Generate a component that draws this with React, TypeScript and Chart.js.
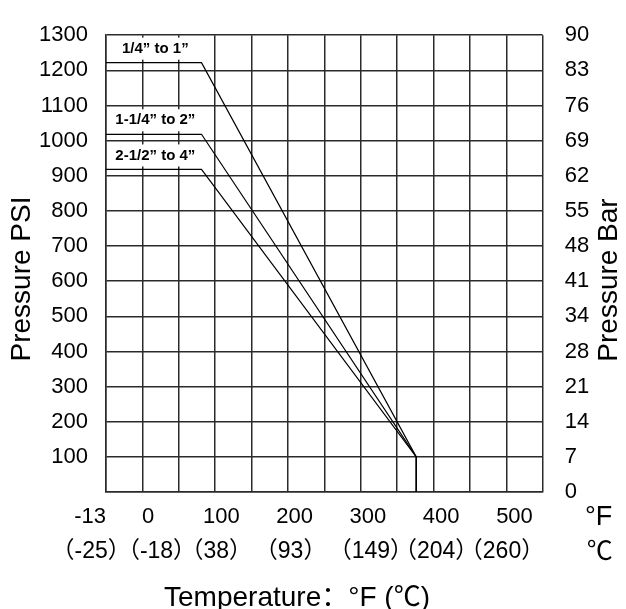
import React, { useEffect, useRef } from 'react';
import { Chart, registerables } from 'chart.js';

Chart.register(...registerables);

// ---------------- data ----------------
// temperature points (°F) of the rating curves: left edge, knee, end, end (drop to 0)
const tempF = [-57.3, 73, 366, 366];
const psiQuarterToOne = [1222, 1222, 100, 0];
const psiOneQuarterToTwo = [1018, 1018, 100, 0];
const psiTwoHalfToFour = [918, 918, 100, 0];

const seriesNames = ['1/4\u201d to 1\u201d', '1-1/4\u201d to 2\u201d', '2-1/2\u201d to 4\u201d'];
const seriesValues = [psiQuarterToOne, psiOneQuarterToTwo, psiTwoHalfToFour];

const psiTickLabels = ['', '100', '200', '300', '400', '500', '600', '700', '800', '900', '1000', '1100', '1200', '1300'];
const barTickLabels = ['0', '7', '14', '21', '28', '34', '41', '48', '55', '62', '69', '76', '83', '90'];
const fahrenheitTicks = [-13, 0, 100, 200, 300, 400, 500];
const celsiusTicks = ['（-25）', '（-18）', '（38）', '（93）', '（149）', '（204）', '（260）'];

// ---------------- layout ----------------
const W = 626;
const H = 609;
const X_MIN = -57.3;
const X_MAX = 538.5;
const GRID_COLS = 12;
const LABEL_F = 10; // centre of series labels, °F
const celsiusDx = [1, 8.5, -5, -4, 3, -5, -12.5];
const FONT = '"Liberation Sans", Arial, "Noto Sans CJK SC", sans-serif';
const CJK = '"Noto Sans CJK SC", "Liberation Sans", sans-serif';
const GRID_COLOR = '#2b2b2b';

function drawRuns(ctx: CanvasRenderingContext2D, runs: [string, string][], cx: number, y: number) {
  const widths = runs.map(([t, f]) => {
    ctx.font = f;
    return ctx.measureText(t).width;
  });
  const total = widths.reduce((a, b) => a + b, 0);
  let x = cx - total / 2;
  ctx.textAlign = 'left';
  runs.forEach(([t, f], i) => {
    ctx.font = f;
    ctx.fillText(t, x, y);
    x += widths[i];
  });
}

const annotPlugin = {
  id: 'annot',
  afterDraw(chart: any) {
    const { ctx, chartArea: ca, scales } = chart;
    const xs = scales.x;
    const ys = scales.y;
    ctx.save();
    ctx.fillStyle = '#000';

    // series labels with white boxes
    ctx.font = `bold 15px ${FONT}`;
    ctx.textAlign = 'center';
    ctx.textBaseline = 'middle';
    seriesNames.forEach((name, i) => {
      const cx = xs.getPixelForValue(LABEL_F);
      const cy = ys.getPixelForValue(seriesValues[i][0]) - 14;
      const w = ctx.measureText(name).width + 8;
      ctx.fillStyle = '#fff';
      ctx.fillRect(cx - w / 2, cy - 11, w, 22);
      ctx.fillStyle = '#000';
      ctx.fillText(name, cx, cy);
    });

    // °F row
    const row1 = ca.bottom + 31;
    ctx.font = `22px ${FONT}`;
    ctx.textBaseline = 'alphabetic';
    const centers: number[] = [];
    fahrenheitTicks.forEach((v, i) => {
      const t = String(v);
      if (i === 0) {
        const w = ctx.measureText(t).width;
        ctx.textAlign = 'right';
        ctx.fillText(t, ca.left, row1);
        centers.push(ca.left - w / 2);
      } else {
        const px = xs.getPixelForValue(v);
        ctx.textAlign = 'center';
        ctx.fillText(t, px, row1);
        centers.push(px);
      }
    });

    // °C row
    const row2 = ca.bottom + 66;
    ctx.font = `23px ${FONT}`;
    ctx.textAlign = 'center';
    celsiusTicks.forEach((t, i) => {
      ctx.fillText(t, centers[i] + celsiusDx[i], row2);
    });

    // unit labels
    ctx.font = `27px ${FONT}`;
    ctx.textAlign = 'center';
    ctx.fillText('°F', ca.right + 56, ca.bottom + 33);
    ctx.font = `26px ${CJK}`;
    ctx.fillText('℃', ca.right + 57, ca.bottom + 68);

    // x title
    const lat = `28px ${FONT}`;
    const cjk = `27px ${CJK}`;
    drawRuns(ctx, [['Temperature', lat], ['：', cjk], ['°F (', lat], ['℃', cjk], [')', lat]], 297, H - 3);

    // y titles
    ctx.font = `28px ${FONT}`;
    ctx.textAlign = 'center';
    ctx.save();
    ctx.translate(30, 279);
    ctx.rotate(-Math.PI / 2);
    ctx.fillText('Pressure PSI', 0, 0);
    ctx.restore();

    ctx.save();
    ctx.translate(617, 280);
    ctx.rotate(-Math.PI / 2);
    ctx.fillText('Pressure Bar', 0, 0);
    ctx.restore();

    ctx.restore();
  },
};

export default function App() {
  const ref = useRef<HTMLCanvasElement | null>(null);

  useEffect(() => {
    document.body.style.margin = '0';
    if (!ref.current) return;
    const datasets = seriesValues.map((vals, i) => ({
      label: seriesNames[i],
      data: vals.map((v, j) => ({ x: tempF[j], y: v })),
      borderColor: '#000',
      borderWidth: 1.2,
      pointRadius: 0,
      fill: false,
      tension: 0,
    }));

    const chart = new Chart(ref.current, {
      type: 'line',
      data: { datasets },
      options: {
        animation: false,
        responsive: true,
        maintainAspectRatio: false,
        layout: { padding: { top: 19, left: 0, right: 0, bottom: 0 } },
        plugins: {
          legend: { display: false },
          tooltip: { enabled: false },
        },
        scales: {
          x: {
            type: 'linear',
            min: X_MIN,
            max: X_MAX,
            afterBuildTicks: (scale: any) => {
              const step = (X_MAX - X_MIN) / GRID_COLS;
              scale.ticks = Array.from({ length: GRID_COLS + 1 }, (_, i) => ({ value: X_MIN + i * step }));
            },
            afterFit: (scale: any) => {
              scale.height = 117;
            },
            ticks: { display: false },
            grid: { color: GRID_COLOR, lineWidth: 1.5, drawTicks: false },
            border: { display: true, color: GRID_COLOR, width: 1.5 },
          },
          y: {
            type: 'linear',
            position: 'left',
            min: 0,
            max: 1300,
            afterFit: (scale: any) => {
              scale.width = 106;
            },
            ticks: {
              stepSize: 100,
              padding: 18,
              color: '#000',
              font: { family: FONT, size: 22 },
              callback: (_v: any, i: number) => psiTickLabels[i],
            },
            grid: { color: GRID_COLOR, lineWidth: 1.5, drawTicks: false },
            border: { display: true, color: GRID_COLOR, width: 1.5 },
          },
          y2: {
            type: 'linear',
            position: 'right',
            min: 0,
            max: 1300,
            afterFit: (scale: any) => {
              scale.width = 83.3;
            },
            ticks: {
              stepSize: 100,
              padding: 22,
              color: '#000',
              font: { family: FONT, size: 22 },
              callback: (_v: any, i: number) => barTickLabels[i],
            },
            grid: { display: false, drawTicks: false },
            border: { display: false },
          },
        },
      },
      plugins: [annotPlugin],
    } as any);

    return () => chart.destroy();
  }, []);

  return (
    <div style={{ position: 'relative', width: W, height: H }}>
      <canvas ref={ref} />
    </div>
  );
}
